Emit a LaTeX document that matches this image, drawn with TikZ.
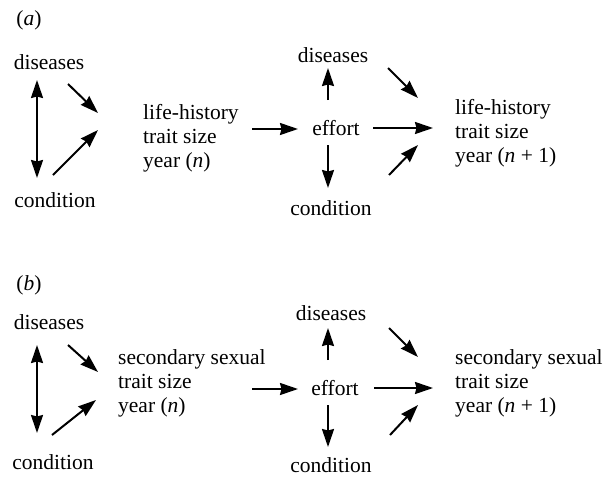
\documentclass[tikz,border=0pt]{standalone}
\usepackage{fontspec}
\setmainfont{Liberation Serif}
\usetikzlibrary{arrows.meta}
\begin{document}
\begin{tikzpicture}[x=1pt,y=-1pt,
  lbl/.style={inner sep=0pt,font=\fontsize{21.5}{24}\selectfont},
  blk/.style={inner sep=0pt,align=left,anchor=west,font=\fontsize{21.5}{24}\selectfont},
  tip/.style={},
  arr/.style={line width=2pt,-{Stealth[length=18pt,width=12pt,inset=1.5pt]}},
  darr/.style={line width=2pt,{Stealth[length=18pt,width=12pt,inset=1.5pt]}-{Stealth[length=18pt,width=12pt,inset=1.5pt]}}]
\useasboundingbox (0,0) rectangle (616,477);
% ---------- panel (a)
\node[lbl] (la) at (29,20) {(\textit{a})};
\node[lbl] (d1) at (49,62) {diseases};
\node[lbl] (c1) at (55,200) {condition};
\node[blk] (t1) at (143,138) {life-history\\trait size\\year (\textit{n})};
\node[lbl] (e1) at (336,128) {effort};
\node[lbl] (d2) at (333,55) {diseases};
\node[lbl] (c2) at (331,208) {condition};
\node[blk] (t2) at (455,133) {life-history\\trait size\\year (\textit{n} + 1)};
\coordinate (a1s) at (37,80);  \coordinate (a1e) at (37,178);
\coordinate (a2s) at (68,84);  \coordinate (a2e) at (98,113);
\coordinate (a3s) at (53,175); \coordinate (a3e) at (98,130);
\coordinate (a4s) at (252,129);\coordinate (a4e) at (298,129);
\coordinate (a5s) at (328,100);\coordinate (a5e) at (328,68);
\coordinate (a6s) at (328,145);\coordinate (a6e) at (328,188);
\coordinate (a7s) at (388,68); \coordinate (a7e) at (418,98);
\coordinate (a8s) at (373,128);\coordinate (a8e) at (433,128);
\coordinate (a9s) at (389,175);\coordinate (a9e) at (418,145);
\draw[darr] (a1s) -- (a1e);
\draw[arr] (a2s) -- (a2e);
\draw[arr] (a3s) -- (a3e);
\draw[arr] (a4s) -- (a4e);
\draw[arr] (a5s) -- (a5e);
\draw[arr] (a6s) -- (a6e);
\draw[arr] (a7s) -- (a7e);
\draw[arr] (a8s) -- (a8e);
\draw[arr] (a9s) -- (a9e);
% ---------- panel (b)
\node[lbl] (lb) at (29,285) {(\textit{b})};
\node[lbl] (d3) at (49,322) {diseases};
\node[lbl] (c3) at (53,462) {condition};
\node[blk] (t3) at (118,383) {secondary sexual\\trait size\\year (\textit{n})};
\node[lbl] (e3) at (335,388) {effort};
\node[lbl] (d4) at (331,313) {diseases};
\node[lbl] (c4) at (331,465) {condition};
\node[blk] (t4) at (455,383) {secondary sexual\\trait size\\year (\textit{n} + 1)};
\coordinate (b1s) at (37,345);  \coordinate (b1e) at (37,433);
\coordinate (b2s) at (68,345);  \coordinate (b2e) at (98,372);
\coordinate (b3s) at (52,435);  \coordinate (b3e) at (96,400);
\coordinate (b4s) at (252,389); \coordinate (b4e) at (298,389);
\coordinate (b5s) at (328,360); \coordinate (b5e) at (328,328);
\coordinate (b6s) at (328,405); \coordinate (b6e) at (328,447);
\coordinate (b7s) at (389,328); \coordinate (b7e) at (418,357);
\coordinate (b8s) at (374,388); \coordinate (b8e) at (433,388);
\coordinate (b9s) at (390,435); \coordinate (b9e) at (418,405);
\draw[darr] (b1s) -- (b1e);
\draw[arr] (b2s) -- (b2e);
\draw[arr] (b3s) -- (b3e);
\draw[arr] (b4s) -- (b4e);
\draw[arr] (b5s) -- (b5e);
\draw[arr] (b6s) -- (b6e);
\draw[arr] (b7s) -- (b7e);
\draw[arr] (b8s) -- (b8e);
\draw[arr] (b9s) -- (b9e);
\end{tikzpicture}
\end{document}
